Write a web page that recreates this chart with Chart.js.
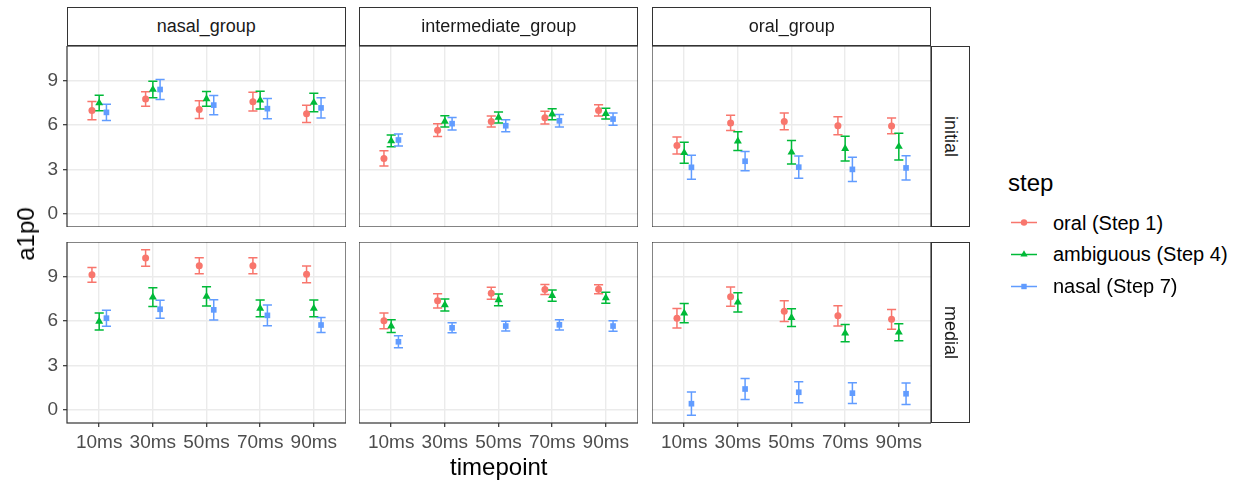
<!DOCTYPE html>
<html>
<head>
<meta charset="utf-8">
<script src="https://cdn.jsdelivr.net/npm/chart.js@4"></script>
<style>
  body { margin: 0; background: #fff; font-family: "Liberation Sans", Arial, sans-serif; }
  #wrap { position: relative; width: 1242px; height: 482px; overflow: hidden; }
  canvas { position: absolute; }
  .strip { position: absolute; box-sizing: border-box; border: 1.2px solid #333; background: #fff;
           color: #1a1a1a; font-size: 18px; display: flex; align-items: center; justify-content: center; }
  .strip.right span { transform: rotate(90deg); white-space: nowrap; }
  .title { position: absolute; color: #000; font-size: 24px; white-space: nowrap; }
  .legend-item { position: absolute; font-size: 20px; color: #000; display: flex; align-items: center; white-space: nowrap; }
</style>
</head>
<body>
<div id="wrap"></div>
<script>
const timepoints = ["10ms", "30ms", "50ms", "70ms", "90ms"];
const groups = ["nasal_group", "intermediate_group", "oral_group"];
const positions = ["initial", "medial"];
const steps = ["oral (Step 1)", "ambiguous (Step 4)", "nasal (Step 7)"];
const yTicks = [0, 3, 6, 9];

// means per step (oral, ambiguous, nasal) and error half-widths
const nasalInitialMean = [[6.96, 7.74, 7.03, 7.56, 6.74], [7.47, 8.38, 7.75, 7.66, 7.50], [6.84, 8.38, 7.33, 7.09, 7.14]];
const nasalInitialErr  = [[0.62, 0.49, 0.60, 0.63, 0.58], [0.52, 0.56, 0.50, 0.60, 0.62], [0.54, 0.68, 0.65, 0.68, 0.68]];
const interInitialMean = [[3.74, 5.64, 6.22, 6.48, 6.97], [4.92, 6.23, 6.49, 6.72, 6.75], [4.98, 6.08, 5.94, 6.27, 6.39]];
const interInitialErr  = [[0.51, 0.43, 0.37, 0.43, 0.38], [0.39, 0.38, 0.37, 0.37, 0.36], [0.40, 0.42, 0.40, 0.42, 0.41]];
const oralInitialMean  = [[4.61, 6.13, 6.23, 5.94, 5.93], [4.12, 4.90, 4.15, 4.40, 4.54], [3.14, 3.55, 3.15, 3.00, 3.10]];
const oralInitialErr   = [[0.57, 0.51, 0.56, 0.61, 0.53], [0.71, 0.63, 0.79, 0.84, 0.90], [0.81, 0.65, 0.75, 0.81, 0.82]];
const nasalMedialMean  = [[9.10, 10.23, 9.71, 9.71, 9.13], [5.96, 7.60, 7.65, 6.84, 6.84], [6.18, 6.78, 6.74, 6.37, 5.72]];
const nasalMedialErr   = [[0.50, 0.56, 0.54, 0.54, 0.56], [0.57, 0.63, 0.65, 0.57, 0.57], [0.54, 0.60, 0.68, 0.70, 0.50]];
const interMedialMean  = [[6.00, 7.35, 7.86, 8.11, 8.13], [5.64, 7.07, 7.41, 7.70, 7.55], [4.59, 5.53, 5.65, 5.73, 5.65]];
const interMedialErr   = [[0.53, 0.48, 0.40, 0.33, 0.30], [0.43, 0.40, 0.40, 0.38, 0.37], [0.40, 0.34, 0.33, 0.34, 0.35]];
const oralMedialMean   = [[6.17, 7.63, 6.65, 6.34, 6.10], [6.52, 7.25, 6.22, 5.17, 5.23], [0.42, 1.41, 1.19, 1.13, 1.09]];
const oralMedialErr    = [[0.66, 0.65, 0.70, 0.68, 0.66], [0.64, 0.65, 0.60, 0.58, 0.57], [0.78, 0.70, 0.70, 0.70, 0.72]];

const panelMeans = [[nasalInitialMean, interInitialMean, oralInitialMean], [nasalMedialMean, interMedialMean, oralMedialMean]];
const panelErrs = [[nasalInitialErr, interInitialErr, oralInitialErr], [nasalMedialErr, interMedialErr, oralMedialErr]];

const colors = ["#F8766D", "#00BA38", "#619CFF"];
const shapes = ["circle", "triangle", "rect"];
const radii = [3.5, 4.6, 4.0];
const dodge = [-0.135, 0, 0.135];
const capHalf = 0.085;

const colLeft = [66.7, 359.3, 652.3];
const rowTop = [46, 241.5];
const panelW = 279, panelH = 181;
const yAxisW = 60, xAxisH = 45;
const font = "'Liberation Sans', Arial, sans-serif";

const wrap = document.getElementById("wrap");

const errorBars = {
  id: "errorBars",
  beforeDatasetsDraw(chart) {
    const { ctx, scales: { x, y } } = chart;
    chart.data.datasets.forEach(ds => {
      ctx.save();
      ctx.strokeStyle = ds.borderColor;
      ctx.lineWidth = 1.5;
      ds.data.forEach((p, i) => {
        const px = x.getPixelForValue(p.x);
        const half = x.getPixelForValue(p.x + capHalf) - px;
        const top = y.getPixelForValue(p.y + ds.err[i]);
        const bot = y.getPixelForValue(p.y - ds.err[i]);
        ctx.beginPath();
        ctx.moveTo(px, top); ctx.lineTo(px, bot);
        ctx.moveTo(px - half, top); ctx.lineTo(px + half, top);
        ctx.moveTo(px - half, bot); ctx.lineTo(px + half, bot);
        ctx.stroke();
      });
      ctx.restore();
    });
  }
};

const panelBox = {
  id: "panelBox",
  afterDraw(chart) {
    const { ctx, chartArea: a } = chart;
    ctx.save();
    ctx.strokeStyle = "#333333";
    ctx.lineWidth = 1.2;
    ctx.strokeRect(a.left, a.top, a.right - a.left, a.bottom - a.top);
    ctx.restore();
  }
};

function makePanel(r, c) {
  const showY = c === 0, showX = r === 1;
  const cv = document.createElement("canvas");
  const w = panelW + (showY ? yAxisW : 0);
  const h = panelH + (showX ? xAxisH : 0);
  cv.width = w; cv.height = h;
  cv.style.left = (colLeft[c] - (showY ? yAxisW : 0)) + "px";
  cv.style.top = rowTop[r] + "px";
  wrap.appendChild(cv);

  const datasets = steps.map((s, k) => ({
    label: s,
    data: panelMeans[r][c][k].map((m, i) => ({ x: i + 1 + dodge[k], y: m })),
    err: panelErrs[r][c][k],
    borderColor: colors[k],
    backgroundColor: colors[k],
    pointStyle: shapes[k],
    pointRadius: radii[k],
    pointBorderWidth: 0,
    showLine: false
  }));

  new Chart(cv, {
    type: "scatter",
    data: { datasets },
    options: {
      responsive: false,
      animation: false,
      layout: { padding: 0, autoPadding: false },
      plugins: { legend: { display: false }, tooltip: { enabled: false } },
      scales: {
        x: {
          type: "linear", min: 0.4, max: 5.6,
          afterBuildTicks: s => { s.ticks = timepoints.map((t, i) => ({ value: i + 1 })); },
          afterFit: s => { s.height = showX ? xAxisH : 0; s.paddingLeft = 0; s.paddingRight = 0; },
          border: { display: false },
          grid: { color: "#EBEBEB", lineWidth: 1.4, drawTicks: showX, tickLength: 4, tickColor: "#333333", tickWidth: 1.2 },
          ticks: {
            display: showX, padding: 4, color: "#4D4D4D", maxRotation: 0,
            font: { family: font, size: 19 },
            callback: v => timepoints[Math.round(v) - 1]
          }
        },
        y: {
          min: -0.88, max: 11.31,
          afterBuildTicks: s => { s.ticks = yTicks.map(v => ({ value: v })); },
          afterFit: s => { s.width = showY ? yAxisW : 0; s.paddingTop = 0; s.paddingBottom = 0; },
          border: { display: false },
          grid: { color: "#EBEBEB", lineWidth: 1.4, drawTicks: showY, tickLength: 4, tickColor: "#333333", tickWidth: 1.2 },
          ticks: { display: showY, padding: 5, color: "#4D4D4D", font: { family: font, size: 19 } }
        }
      }
    },
    plugins: [errorBars, panelBox]
  });
}

for (let r = 0; r < 2; r++) for (let c = 0; c < 3; c++) makePanel(r, c);

// facet strips
groups.forEach((g, c) => {
  const d = document.createElement("div");
  d.className = "strip";
  d.style.left = colLeft[c] + "px"; d.style.top = "6.7px";
  d.style.width = panelW + "px"; d.style.height = (rowTop[0] - 6.7 + 0.5) + "px";
  d.textContent = g;
  wrap.appendChild(d);
});
positions.forEach((p, r) => {
  const d = document.createElement("div");
  d.className = "strip right";
  d.style.left = (colLeft[2] + panelW - 0.5) + "px"; d.style.top = rowTop[r] + "px";
  d.style.width = "39.5px"; d.style.height = panelH + "px";
  const sp = document.createElement("span");
  sp.textContent = p;
  d.appendChild(sp);
  wrap.appendChild(d);
});

// axis titles
const yt = document.createElement("div");
yt.className = "title";
yt.textContent = "a1p0";
yt.style.left = "26px"; yt.style.top = "234px";
yt.style.transform = "translate(-50%, -50%) rotate(-90deg)";
wrap.appendChild(yt);

const xt = document.createElement("div");
xt.className = "title";
xt.textContent = "timepoint";
xt.style.left = (colLeft[1] + panelW / 2) + "px"; xt.style.top = "467px";
xt.style.transform = "translate(-50%, -50%)";
wrap.appendChild(xt);

// legend
const lt = document.createElement("div");
lt.className = "title";
lt.textContent = "step";
lt.style.left = "1008px"; lt.style.top = "183px";
lt.style.transform = "translate(0, -50%)";
wrap.appendChild(lt);

const keyY = [222.7, 254.3, 286];
steps.forEach((s, k) => {
  const it = document.createElement("div");
  it.className = "legend-item";
  it.style.left = "1011px"; it.style.top = keyY[k] + "px";
  it.style.transform = "translate(0, -50%)";
  let sym;
  if (k === 0) sym = `<circle cx="13" cy="8" r="3.2" fill="${colors[k]}"/>`;
  else if (k === 1) sym = `<polygon points="13,3.8 16.6,10 9.4,10" fill="${colors[k]}"/>`;
  else sym = `<rect x="10.3" y="5.3" width="5.4" height="5.4" fill="${colors[k]}"/>`;
  it.innerHTML = `<svg width="26" height="16" style="margin-right:16px"><line x1="0" y1="8" x2="26" y2="8" stroke="${colors[k]}" stroke-width="1.4"/>${sym}</svg><span>${s}</span>`;
  wrap.appendChild(it);
});
</script>
</body>
</html>
